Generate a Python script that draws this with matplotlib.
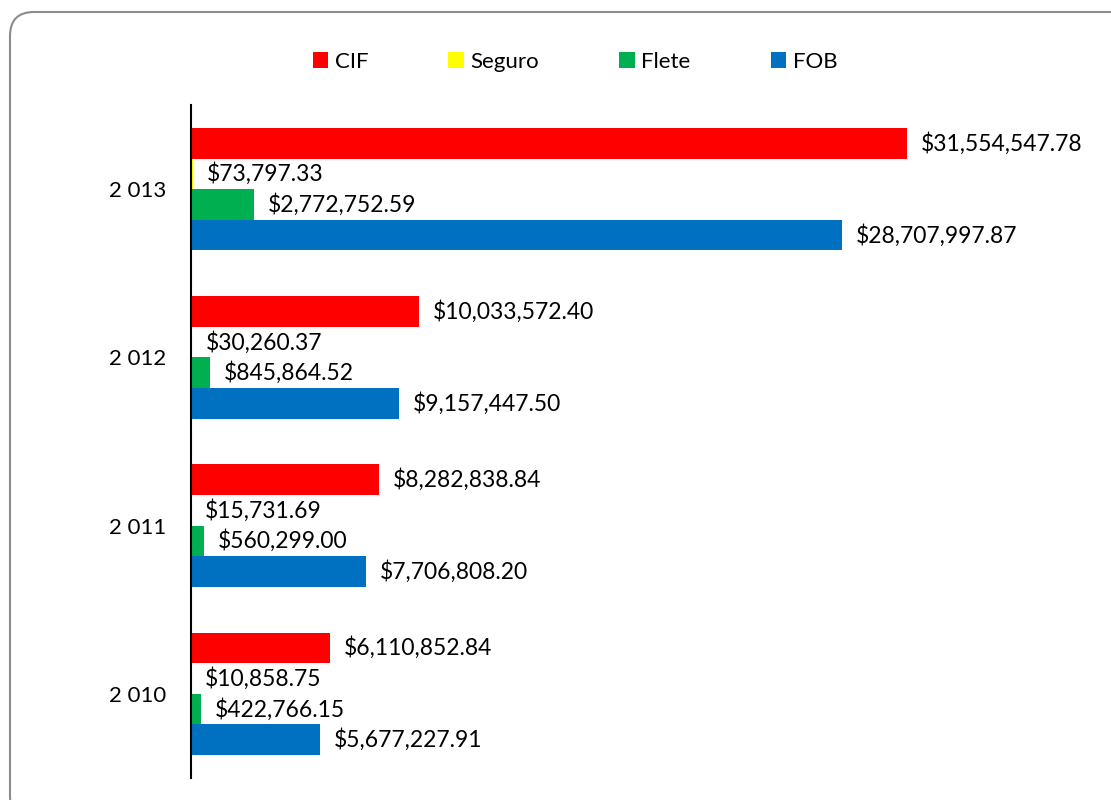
import matplotlib.pyplot as plt
import numpy as np
from matplotlib.patches import FancyBboxPatch
from matplotlib.transforms import IdentityTransform

plt.rcParams['font.family'] = ['Lato', 'DejaVu Sans']

years = ['2 010', '2 011', '2 012', '2 013']
series = ['CIF', 'Seguro', 'Flete', 'FOB']
colors = ['#ff0000', '#ffff00', '#00b050', '#0070c0']
cif = [6110852.84, 8282838.84, 10033572.40, 31554547.78]
seguro = [10858.75, 15731.69, 30260.37, 73797.33]
flete = [422766.15, 560299.00, 845864.52, 2772752.59]
fob = [5677227.91, 7706808.20, 9157447.50, 28707997.87]

fig = plt.figure(figsize=(11.11, 8), dpi=100)

# rounded frame, cut off at right and bottom like the original
frame = FancyBboxPatch((10, -20), 1130, 808, boxstyle='round,pad=0,rounding_size=24',
                       transform=IdentityTransform(), facecolor='white',
                       edgecolor='#8c8c8c', linewidth=1.5, zorder=-5)
fig.patches.append(frame)

ax = fig.add_axes([191 / 1111, 1 - 778 / 800, (985 - 191) / 1111, (778 - 105) / 800])
ax.set_facecolor('none')

y = np.arange(len(years))
h = 0.182
vals = [cif, seguro, flete, fob]
for i, (name, v, c) in enumerate(zip(series, vals, colors)):
    pos = y + (1.5 - i) * h
    bars = ax.barh(pos, v, height=h, color=c, label=name)
    ax.bar_label(bars, labels=['${:,.2f}'.format(x) for x in v], padding=10, fontsize=16.5)

ax.set_xlim(0, 35e6)
ax.set_ylim(-0.5, 3.5)
ax.set_yticks(y)
ax.set_yticklabels(years, fontsize=16)
ax.tick_params(axis='y', length=0, pad=18)
ax.set_xticks([])
for s in ['top', 'right', 'bottom']:
    ax.spines[s].set_visible(False)
ax.spines['left'].set_linewidth(1.5)

ax.legend(loc='center', bbox_to_anchor=(575 / 1111, 1 - 62 / 800), bbox_transform=fig.transFigure,
          ncol=4, frameon=False, fontsize=16, handlelength=0.7, handleheight=0.7,
          handletextpad=0.3, columnspacing=3.6)

fig.savefig('out.png', dpi=100)
